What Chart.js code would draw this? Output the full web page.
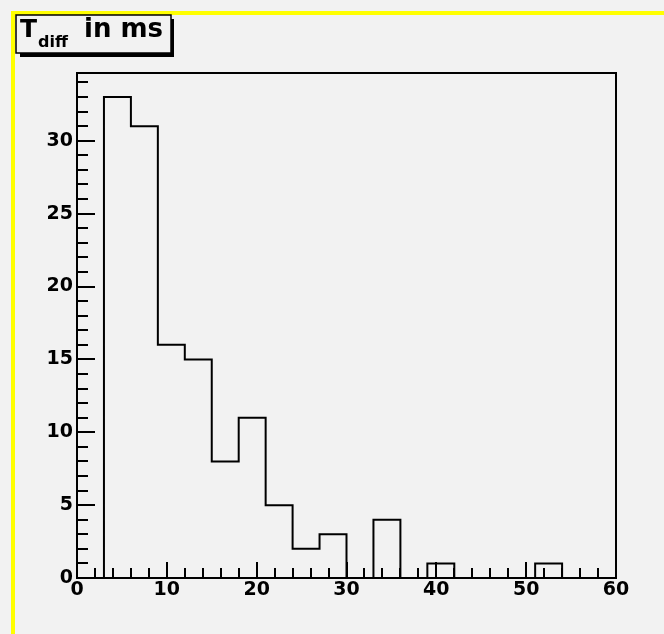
<!DOCTYPE html>
<html>
<head>
<meta charset="utf-8">
<title>T diff in ms</title>
<script src="https://cdn.jsdelivr.net/npm/chart.js@4.4.1/dist/chart.umd.min.js"></script>
<style>
    html, body { margin: 0; padding: 0; background: #f2f2f2; overflow: hidden; }
    #frame {
        position: absolute; left: 11px; top: 11px; width: 700px; height: 700px;
        border-top: 4px solid #ffff00; border-left: 4px solid #ffff00;
    }
    #chart { position: absolute; left: 0; top: 0; }
</style>
</head>
<body>
<div id="frame"></div>
<canvas id="chart" width="664" height="634"></canvas>
<script>
// Histogram: 20 bins of width 3 from 0 to 60
const binLow = 0;
const binWidth = 3;
const counts = [0, 33, 31, 16, 15, 8, 11, 5, 2, 3, 0, 4, 0, 1, 0, 0, 0, 1, 0, 0];

// Axis ranges and tick steps
const xRange = [0, 60];
const yRange = [0, 34.65];
const xMajor = 10, xMinor = 2;
const yMajor = 5, yMinor = 1;

const titleMain = 'T';
const titleSub = 'diff';
const titleRest = 'in ms';

const labelFont = { family: 'DejaVu Sans', weight: 'bold', size: 19 };

// Step points from the bins: lower edge of each bin, plus the last upper edge
function histPoints() {
    const pts = counts.map((c, i) => ({ x: binLow + i * binWidth, y: c }));
    pts.push({ x: binLow + counts.length * binWidth, y: counts[counts.length - 1] });
    return pts;
}

// Frame, inner ticks and title box like a ROOT canvas
const rootStyle = {
    id: 'rootStyle',
    afterDatasetsDraw(chart) {
        const ctx = chart.ctx;
        const area = chart.chartArea;
        const xs = chart.scales.x;
        const ys = chart.scales.y;
        ctx.save();
        ctx.strokeStyle = '#000';
        ctx.lineWidth = 2;

        // ticks pointing into the plot
        ctx.beginPath();
        for (let v = yRange[0]; v <= yRange[1]; v += yMinor) {
            const len = v % yMajor === 0 ? 18 : 11;
            const py = Math.round(ys.getPixelForValue(v));
            ctx.moveTo(area.left, py);
            ctx.lineTo(area.left + len, py);
        }
        for (let v = xRange[0]; v <= xRange[1]; v += xMinor) {
            const len = v % xMajor === 0 ? 16 : 10;
            const px = Math.round(xs.getPixelForValue(v));
            ctx.moveTo(px, area.bottom);
            ctx.lineTo(px, area.bottom - len);
        }
        ctx.stroke();

        ctx.strokeRect(area.left, area.top, area.right - area.left, area.bottom - area.top);

        // title box with shadow
        ctx.fillStyle = '#000';
        ctx.fillRect(20, 53, 154, 4);
        ctx.fillRect(170, 19, 4, 38);
        ctx.fillStyle = '#f2f2f2';
        ctx.fillRect(16, 15, 155, 38);
        ctx.lineWidth = 1.5;
        ctx.strokeRect(16, 15, 155, 38);

        ctx.fillStyle = '#000';
        ctx.textBaseline = 'alphabetic';
        ctx.font = 'bold 25px "DejaVu Sans"';
        ctx.fillText(titleMain, 20, 37);
        ctx.font = 'bold 16px "DejaVu Sans"';
        ctx.fillText(titleSub, 38, 47);
        ctx.font = 'bold 26px "DejaVu Sans"';
        ctx.fillText(titleRest, 84, 37);
        ctx.restore();
    }
};

document.addEventListener('DOMContentLoaded', () => {
    const ctx = document.getElementById('chart').getContext('2d');
    new Chart(ctx, {
        type: 'line',
        data: {
            datasets: [{
                data: histPoints(),
                stepped: 'before',
                borderColor: '#000',
                borderWidth: 2,
                pointRadius: 0,
                fill: false
            }]
        },
        options: {
            responsive: false,
            animation: false,
            layout: { padding: { top: 73, right: 48, left: 0, bottom: 0 } },
            plugins: {
                legend: { display: false },
                tooltip: { enabled: false },
                title: { display: false }
            },
            scales: {
                x: {
                    type: 'linear',
                    min: xRange[0],
                    max: xRange[1],
                    afterFit: (scale) => { scale.height = 56; },
                    grid: { display: true, drawOnChartArea: false, drawTicks: false },
                    border: { display: false },
                    ticks: { stepSize: xMajor, color: '#000', font: labelFont, padding: 1, maxRotation: 0 }
                },
                y: {
                    type: 'linear',
                    min: yRange[0],
                    max: yRange[1],
                    afterFit: (scale) => { scale.width = 77; },
                    grid: { display: true, drawOnChartArea: false, drawTicks: false },
                    border: { display: false },
                    ticks: { stepSize: yMajor, includeBounds: false, color: '#000', font: labelFont, padding: 4 }
                }
            }
        },
        plugins: [rootStyle]
    });
});
</script>
</body>
</html>
